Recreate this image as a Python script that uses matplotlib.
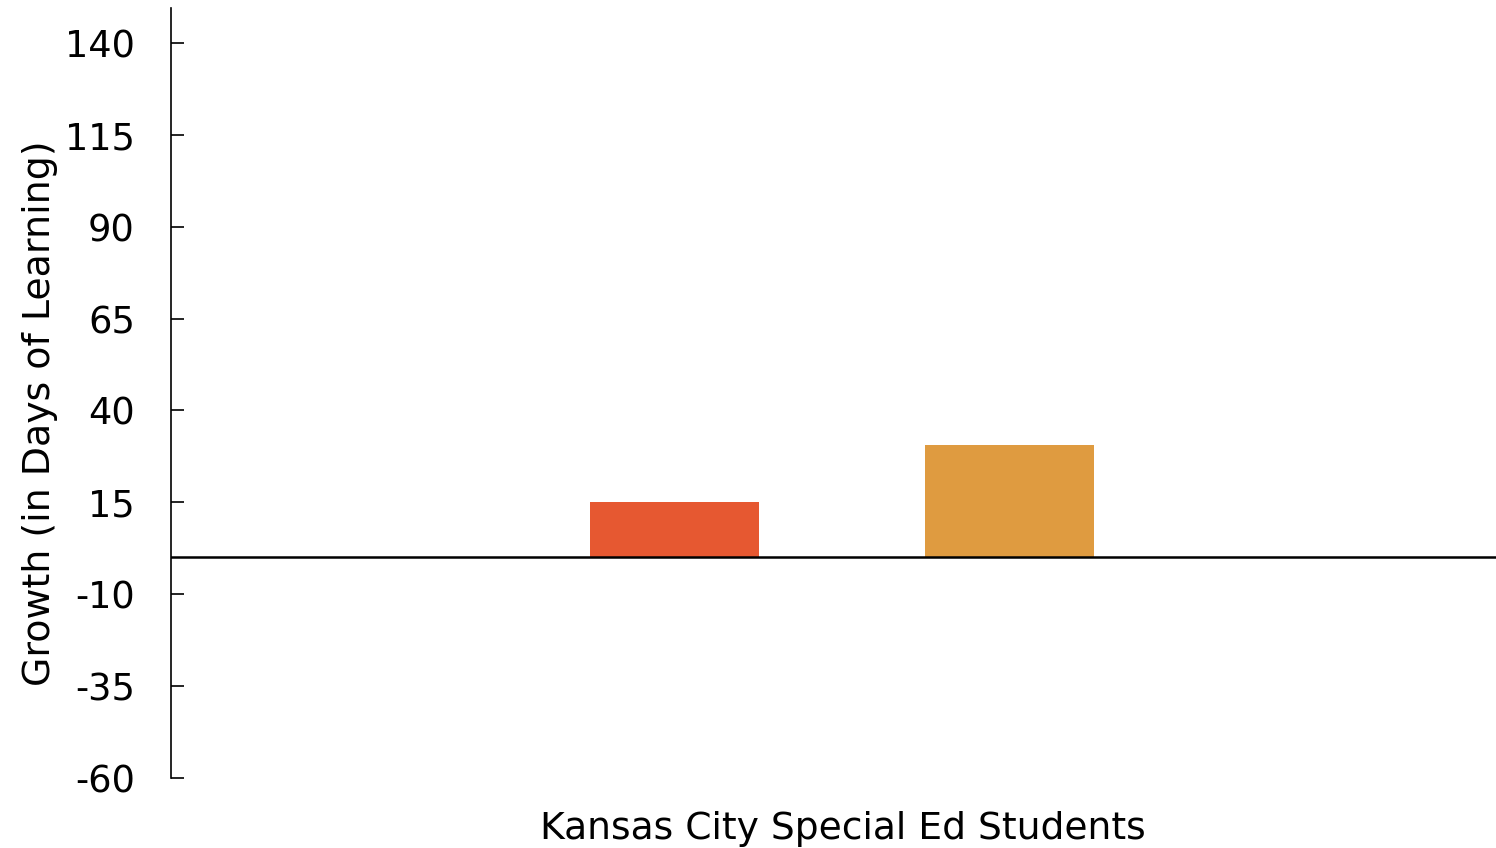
"""Growth bar chart for Kansas City special ed students."""

import matplotlib
matplotlib.use("Agg")
import matplotlib.pyplot as plt

# bar values (days of learning)
groups = ["Group A", "Group B"]
growth = [15, 30.6]
bar_colors = ["#E65831", "#DF9B40"]
y_ticks = [-60, -35, -10, 15, 40, 65, 90, 115, 140]

plt.rcParams.update({
    "font.family": "DejaVu Sans",
    "font.size": 26.5,
})

fig = plt.figure(figsize=(14.96, 8.48), dpi=100)
ax = fig.add_axes([0.1143, 0.0825, 0.8857, 0.9081])

positions = range(len(growth))
ax.bar(positions, growth, width=0.504, color=bar_colors, zorder=2)

ax.axhline(0, color="black", linewidth=1.8, zorder=3)

ax.set_xlim(-1.5, 2.45)
ax.set_ylim(-60, 149.5)
ax.set_yticks(y_ticks)
ax.set_yticklabels([str(t) for t in y_ticks])
ax.tick_params(axis="y", direction="in", length=9, width=1.2, pad=26, colors="black")
ax.set_xticks([])

for side in ("top", "right", "bottom"):
    ax.spines[side].set_visible(False)
ax.spines["left"].set_linewidth(1.2)

ax.set_ylabel("Growth (in Days of Learning)", fontsize=27.3)
ax.yaxis.set_label_coords(-0.085, 0.474)
ax.set_xlabel("Kansas City Special Ed Students", fontsize=27.1)
ax.xaxis.set_label_coords(0.5068, -0.043)

fig.savefig("out.png", dpi=100)
